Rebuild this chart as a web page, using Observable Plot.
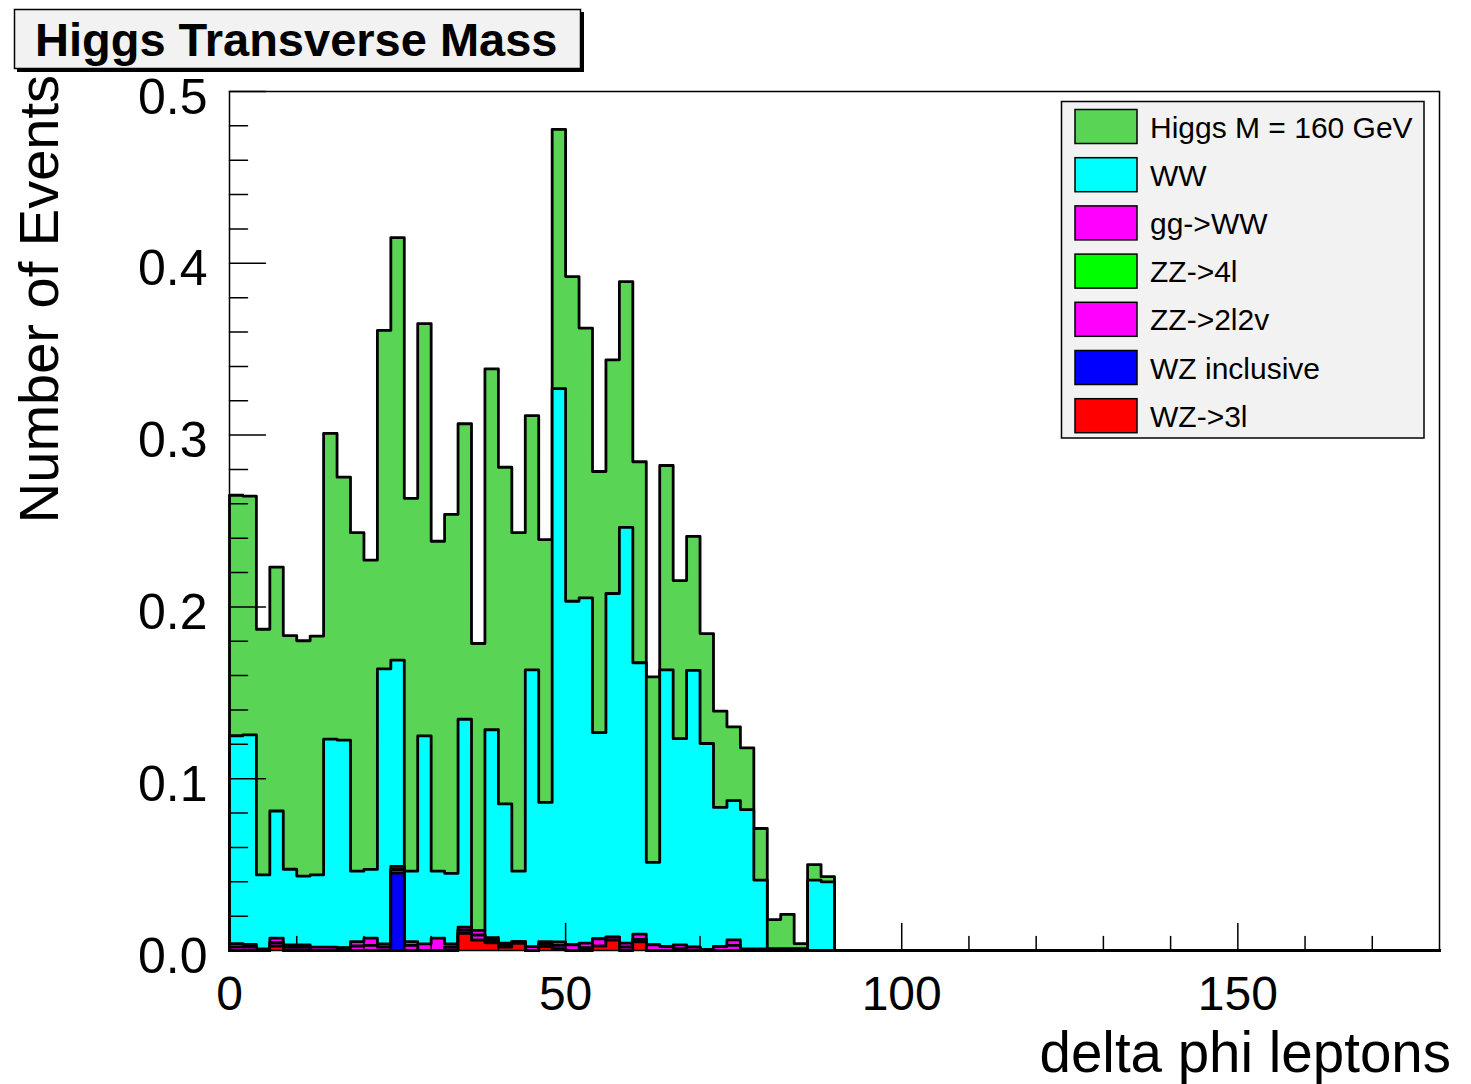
<!DOCTYPE html>
<html><head><meta charset="utf-8">
<script src="https://cdn.jsdelivr.net/npm/d3@7"></script>
<script src="https://cdn.jsdelivr.net/npm/@observablehq/plot@0.6"></script>
<style>body{margin:0;background:#fff}</style>
</head><body><div id="chart"></div>
<script>
// ---- data (bin contents, bins of width 2 starting at 0; bins not listed are empty) ----
const binWidth = 2;
const xMin = 0, xMax = 180;
const higgs = [0.140,0.139,0.143,0.142,0.136,0.137,0.139,0.178,0.153,0.197,
               0.180,0.197,0.246,0.217,0.240,0.192,0.209,0.172,0.167,0.210,
               0.196,0.197,0.148,0.153,0.151,0.189,0.157,0.152,0.136,0.143,
               0.117,0.108,0.119,0.092,0.078,0.064,0.056,0.043,0.036,0.030,
               0.017,0.020,0.003,0.009,0.003];
const ww    = [0.121,0.122,0.043,0.074,0.044,0.040,0.042,0.121,0.121,0.041,
               0.040,0.160,0.120,0.041,0.121,0.039,0.041,0.121,0.000,0.121,
               0.081,0.041,0.161,0.081,0.322,0.200,0.201,0.120,0.200,0.242,
               0.158,0.048,0.161,0.120,0.161,0.120,0.081,0.081,0.081,0.040,
               0.000,0.000,0.000,0.041,0.040];
const ggWW  = [0.0020,0.0015,0.0010,0.0027,0.0015,0.0015,0.0020,0.0020,0.0000,0.0027,
               0.0042,0.0019,0.0020,0.0022,0.0039,0.0072,0.0020,0.0018,0.0027,0.0015,
               0.0010,0.0000,0.0023,0.0015,0.0020,0.0000,0.0028,0.0000,0.0000,0.0023,
               0.0030,0.0000,0.0000,0.0023,0.0000,0.0000,0.0000,0.0032,0.0010,0.0010,
               0.0010,0.0010,0.0010,0.0000,0.0000];
const zz4l  = [];
const zz2l2v= [0.0020,0.0020,0.0000,0.0020,0.0018,0.0018,0.0000,0.0000,0.0015,0.0025,
               0.0030,0.0020,0.0020,0.0030,0.0000,0.0000,0.0019,0.0018,0.0030,0.0015,
               0.0013,0.0010,0.0000,0.0014,0.0020,0.0033,0.0015,0.0043,0.0018,0.0020,
               0.0015,0.0033,0.0023,0.0010,0.0020,0.0005,0.0023,0.0030];
const wzIncl= [0,0,0,0,0,0,0,0,0,0, 0,0,0.045];
const wz3l  = [0,0,0,0.0025,0,0,0,0,0,0, 0,0,0,0,0,0,0,0.010,0.006,0.0045,
               0.002,0.0042,0,0.0023,0.001,0,0,0.0025,0.006,0, 0.005];
const seriesNames = ["Higgs M = 160 GeV","WW","gg->WW","ZZ->4l","ZZ->2l2v","WZ inclusive","WZ->3l"];
const seriesColors = ["#59d454","#00ffff","#ff00ff","#00ff00","#ff00ff","#0000ff","#ff0000"];
const yMajor = [0,0.1,0.2,0.3,0.4,0.5];
const xMajor = [0,50,100,150];

// ---- build stacked layers (bottom to top) ----
const nBins = (xMax - xMin) / binWidth;
const pad = a => Array.from({length: nBins}, (_, i) => a[i] ?? 0);
const seriesValues = [higgs, ww, ggWW, zz4l, zz2l2v, wzIncl, wz3l].map(pad);
const order = [6,5,4,3,2,1,0]; // stacking order, bottom first
const cum = new Array(nBins).fill(0);
const layers = [];
for (const s of order) {
  for (let k = 0; k < nBins; k++) cum[k] += seriesValues[s][k];
  const pts = [];
  for (let k = 0; k < nBins; k++) {
    pts.push({x: xMin + k*binWidth, y: cum[k]});
    pts.push({x: xMin + (k+1)*binWidth, y: cum[k]});
  }
  layers.push({color: seriesColors[s], pts, outline: [{x: xMin, y: 0}, ...pts, {x: xMax, y: 0}]});
}

const yMinor = d3.range(0, 0.5001, 0.02).filter(v => !yMajor.some(m => Math.abs(m - v) < 1e-6));
const xMinor = d3.range(0, 180, 10).filter(v => !xMajor.includes(v));
const tickShape = {draw(ctx, l) { ctx.moveTo(0, 0); ctx.lineTo(0, -l); }};

const marks = [];
for (const L of layers.slice().reverse()) {
  marks.push(Plot.areaY(L.pts, {x: "x", y1: () => 0, y2: "y", fill: L.color, curve: "linear"}));
  marks.push(Plot.line(L.outline, {x: "x", y: "y", stroke: "black", strokeWidth: 2.8, curve: "linear"}));
}
marks.push(Plot.frame({stroke: "black", strokeWidth: 1.5}));
marks.push(Plot.vector(yMajor, {x: () => 0, y: d => d, length: 36, rotate: 90, anchor: "start", shape: tickShape, stroke: "black", strokeWidth: 1.5}));
marks.push(Plot.vector(yMinor, {x: () => 0, y: d => d, length: 18, rotate: 90, anchor: "start", shape: tickShape, stroke: "black", strokeWidth: 1.5}));
marks.push(Plot.vector(xMajor, {x: d => d, y: () => 0, length: 27, rotate: 0, anchor: "start", shape: tickShape, stroke: "black", strokeWidth: 1.5}));
marks.push(Plot.vector(xMinor, {x: d => d, y: () => 0, length: 14, rotate: 0, anchor: "start", shape: tickShape, stroke: "black", strokeWidth: 1.5}));
marks.push(Plot.axisY({ticks: yMajor, tickSize: 0, tickPadding: 22, tickFormat: d => d.toFixed(1), fontSize: 50, dy: 6, label: null}));
marks.push(Plot.axisX({ticks: xMajor, tickSize: 0, tickPadding: 25, tickFormat: d => String(d), fontSize: 48, label: null}));

const svgEl = Plot.plot({
  width: 1471, height: 1084,
  marginLeft: 229, marginRight: 32, marginTop: 91, marginBottom: 134,
  x: {domain: [xMin, xMax]},
  y: {domain: [0, 0.5]},
  style: {fontFamily: "'Liberation Sans', Arial, Helvetica, sans-serif", background: "white", color: "black"},
  marks
});
document.getElementById("chart").appendChild(svgEl);

// ---- title, axis titles, legend ----
const svg = d3.select(svgEl);
const font = "'Liberation Sans', Arial, Helvetica, sans-serif";
const tg = svg.append("g").attr("text-anchor", "start");
tg.append("rect").attr("x", 17).attr("y", 12).attr("width", 567).attr("height", 60).attr("fill", "#000");
tg.append("rect").attr("x", 14.5).attr("y", 9.5).attr("width", 566).attr("height", 59).attr("fill", "#f2f2f2").attr("stroke", "#000").attr("stroke-width", 1.5);
tg.append("text").attr("x", 35).attr("y", 56).attr("text-anchor", "start").attr("font-family", font).attr("font-weight", "bold").attr("font-size", 47).attr("fill", "#000").text("Higgs Transverse Mass");

svg.append("text").attr("transform", "translate(58,75) rotate(-90)").attr("text-anchor", "end")
  .attr("font-family", font).attr("font-size", 56).attr("fill", "#000").text("Number of Events");
svg.append("text").attr("x", 1451).attr("y", 1072).attr("text-anchor", "end")
  .attr("font-family", font).attr("font-size", 56.5).attr("fill", "#000").text("delta phi leptons");

const lg = svg.append("g").attr("text-anchor", "start");
lg.append("rect").attr("x", 1061.5).attr("y", 101.5).attr("width", 362.5).attr("height", 336.5)
  .attr("fill", "#f2f2f2").attr("stroke", "#000").attr("stroke-width", 1.5);
seriesNames.forEach((name, i) => {
  const y0 = 109.5 + i * 48.2;
  lg.append("rect").attr("x", 1075).attr("y", y0).attr("width", 62).attr("height", 34)
    .attr("fill", seriesColors[i]).attr("stroke", "#000").attr("stroke-width", 1.5);
  lg.append("text").attr("x", 1150).attr("y", y0 + 28).attr("text-anchor", "start").attr("font-family", font).attr("font-size", 30)
    .attr("fill", "#000").text(name);
});
</script></body></html>
